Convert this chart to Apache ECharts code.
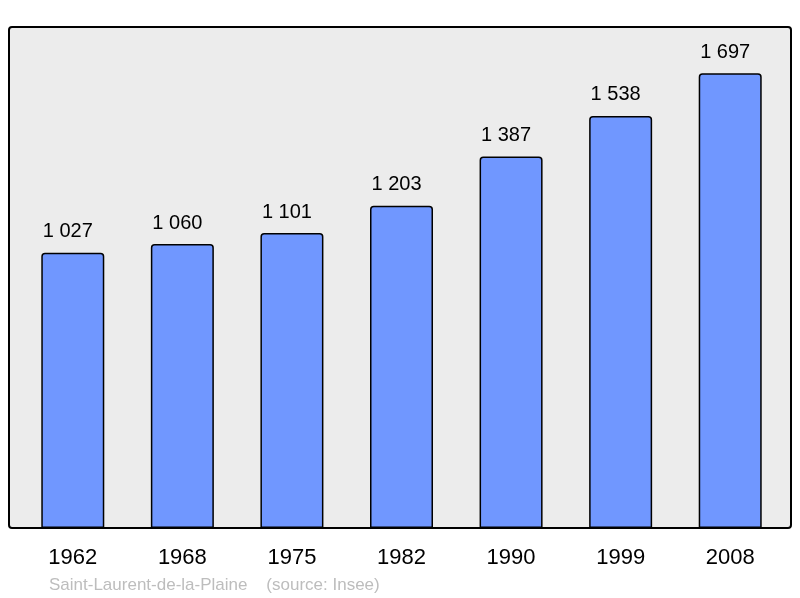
<!DOCTYPE html>
<html lang="fr">
<head>
  <meta charset="UTF-8">
  <title>Saint-Laurent-de-la-Plaine</title>
  <style>
    * { margin: 0; padding: 0; }
    #main { width: 800px; height: 598px; background: #fff; }
  </style>
</head>
<body>
  <div id="main"></div>
  <script src="https://cdn.jsdelivr.net/npm/echarts@6/dist/echarts.min.js"></script>
  <script>
    // données
    var years = ['1962', '1968', '1975', '1982', '1990', '1999', '2008'];
    var population = [1027, 1060, 1101, 1203, 1387, 1538, 1697];
    var footer = 'Saint-Laurent-de-la-Plaine    (source: Insee)';

    var font = '"Liberation Sans", Arial, sans-serif';

    // 1697 -> "1 697"
    function fmt(v) {
      return String(v).replace(/\B(?=(\d{3})+(?!\d))/g, ' ');
    }

    var chart = echarts.init(document.getElementById('main'));
    chart.setOption({
      animation: false,
      textStyle: { fontFamily: font },
      graphic: [
        { // fond + cadre
          type: 'rect', z: -10,
          shape: { x: 9, y: 27, width: 782, height: 501, r: 3 },
          style: { fill: '#ececec', stroke: '#000', lineWidth: 2 }
        },
        {
          type: 'text', left: 49, top: 577,
          style: { text: footer, fill: '#bdbdbd', font: '17px ' + font }
        }
      ],
      grid: { left: 18, right: 15, top: 27, bottom: 70 },
      xAxis: {
        type: 'category',
        data: years,
        axisLine: { show: false },
        axisTick: { show: false },
        axisLabel: { color: '#000', fontSize: 22, margin: 19 }
      },
      yAxis: {
        type: 'value',
        min: 0,
        max: 1870,
        show: false,
        splitLine: { show: false }
      },
      series: [{
        type: 'bar',
        data: population,
        barWidth: 63,
        itemStyle: {
          color: '#7097ff',
          borderColor: '#000',
          borderWidth: 1.5,
          borderRadius: [3, 3, 0, 0]
        },
        label: {
          show: true,
          position: 'top',
          distance: 11,
          offset: [-5, 0],
          color: '#000',
          fontSize: 20,
          formatter: function (p) { return fmt(p.value); }
        }
      }]
    });
  </script>
</body>
</html>
